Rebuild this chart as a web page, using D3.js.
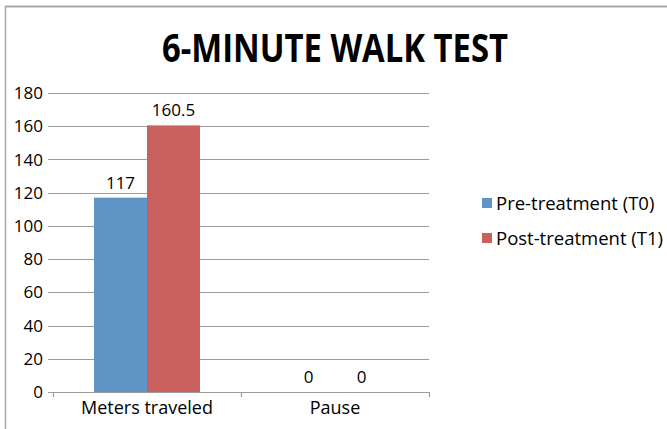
<!DOCTYPE html>
<html>
<head>
<meta charset="utf-8">
<style>
  body { margin: 0; background: #fff; }
  svg { display: block; }
  text { font-family: "Open Sans", sans-serif; fill: #000; }
</style>
</head>
<body>
<svg width="667" height="429"></svg>
<script src="https://d3js.org/d3.v7.min.js"></script>
<script>
// chart values
var categories = ["Meters traveled", "Pause"];
var seriesNames = ["Pre-treatment (T0)", "Post-treatment (T1)"];
var preValues = [117, 0];
var postValues = [160.5, 0];
var yTicks = [0, 20, 40, 60, 80, 100, 120, 140, 160, 180];
var colors = ["#5e94c6", "#c9625e"];

var svg = d3.select("svg");

// frame lines (top and left only, like the cropped original)
svg.append("line")
    .attr("x1", 5).attr("x2", 667).attr("y1", 6.5).attr("y2", 6.5)
    .attr("stroke", "#a8a8a8").attr("stroke-width", 2);
svg.append("line")
    .attr("x1", 5.5).attr("x2", 5.5).attr("y1", 6).attr("y2", 429)
    .attr("stroke", "#a8a8a8").attr("stroke-width", 1.5);

// title
svg.append("text")
    .attr("x", 162).attr("y", 62)
    .attr("font-size", 40)
    .attr("font-weight", "bold")
    .attr("textLength", 346)
    .attr("lengthAdjust", "spacingAndGlyphs")
    .text("6-MINUTE WALK TEST");

var plotLeft = 53, plotRight = 429, plotTop = 93, plotBottom = 392;

var y = d3.scaleLinear().domain([0, 180]).range([plotBottom, plotTop]);
var x = d3.scaleBand().domain(categories).range([plotLeft, plotRight]).padding(0);
var xs = d3.scaleBand().domain(seriesNames).range([0, x.bandwidth()])
    .paddingInner(0).paddingOuter(0.774);

// gridlines
svg.append("g").selectAll("line")
    .data(yTicks)
    .enter().append("line")
    .attr("x1", plotLeft - 5).attr("x2", plotRight)
    .attr("y1", function(d) { return Math.round(y(d)) + 0.5; })
    .attr("y2", function(d) { return Math.round(y(d)) + 0.5; })
    .attr("stroke", "#9c9c9c")
    .attr("stroke-width", 1.2);

// y tick labels
svg.append("g").selectAll("text")
    .data(yTicks)
    .enter().append("text")
    .attr("x", plotLeft - 10)
    .attr("y", function(d) { return y(d); })
    .attr("dy", "0.36em")
    .attr("text-anchor", "end")
    .attr("font-size", 17)
    .text(function(d) { return d; });

// category ticks on the baseline
svg.append("g").selectAll("line")
    .data(x.domain().map(function(c) { return x(c); }).concat([plotRight]))
    .enter().append("line")
    .attr("x1", function(d) { return d + 0.5; })
    .attr("x2", function(d) { return d + 0.5; })
    .attr("y1", plotBottom).attr("y2", plotBottom + 5)
    .attr("stroke", "#9c9c9c")
    .attr("stroke-width", 1.2);

// bars
var rows = categories.map(function(c, i) {
  return [
    { cat: c, name: seriesNames[0], value: preValues[i], color: colors[0] },
    { cat: c, name: seriesNames[1], value: postValues[i], color: colors[1] }
  ];
});

var groups = svg.append("g").selectAll("g")
    .data(rows)
    .enter().append("g")
    .attr("transform", function(d) { return "translate(" + x(d[0].cat) + ",0)"; });

groups.selectAll("rect")
    .data(function(d) { return d; })
    .enter().append("rect")
    .attr("x", function(d) { return xs(d.name); })
    .attr("width", xs.bandwidth())
    .attr("y", function(d) { return y(d.value); })
    .attr("height", function(d) { return y(0) - y(d.value); })
    .attr("fill", function(d) { return d.color; });

groups.selectAll("text")
    .data(function(d) { return d; })
    .enter().append("text")
    .attr("x", function(d) { return xs(d.name) + xs.bandwidth() / 2; })
    .attr("y", function(d) { return y(d.value) - 9; })
    .attr("text-anchor", "middle")
    .attr("font-size", 17)
    .text(function(d) { return d.value; });

// category labels
svg.append("g").selectAll("text")
    .data(categories)
    .enter().append("text")
    .attr("x", function(d) { return x(d) + x.bandwidth() / 2; })
    .attr("y", 414)
    .attr("text-anchor", "middle")
    .attr("font-size", 18)
    .text(function(d) { return d; });

// legend
var legend = svg.append("g").selectAll("g")
    .data(seriesNames)
    .enter().append("g")
    .attr("transform", function(d, i) { return "translate(482," + (203 + i * 35) + ")"; });

legend.append("rect")
    .attr("x", 0).attr("y", -5)
    .attr("width", 10).attr("height", 10)
    .attr("fill", function(d, i) { return colors[i]; });

legend.append("text")
    .attr("x", 14)
    .attr("dy", "0.36em")
    .attr("font-size", 18.5)
    .text(function(d) { return d; });
</script>
</body>
</html>
